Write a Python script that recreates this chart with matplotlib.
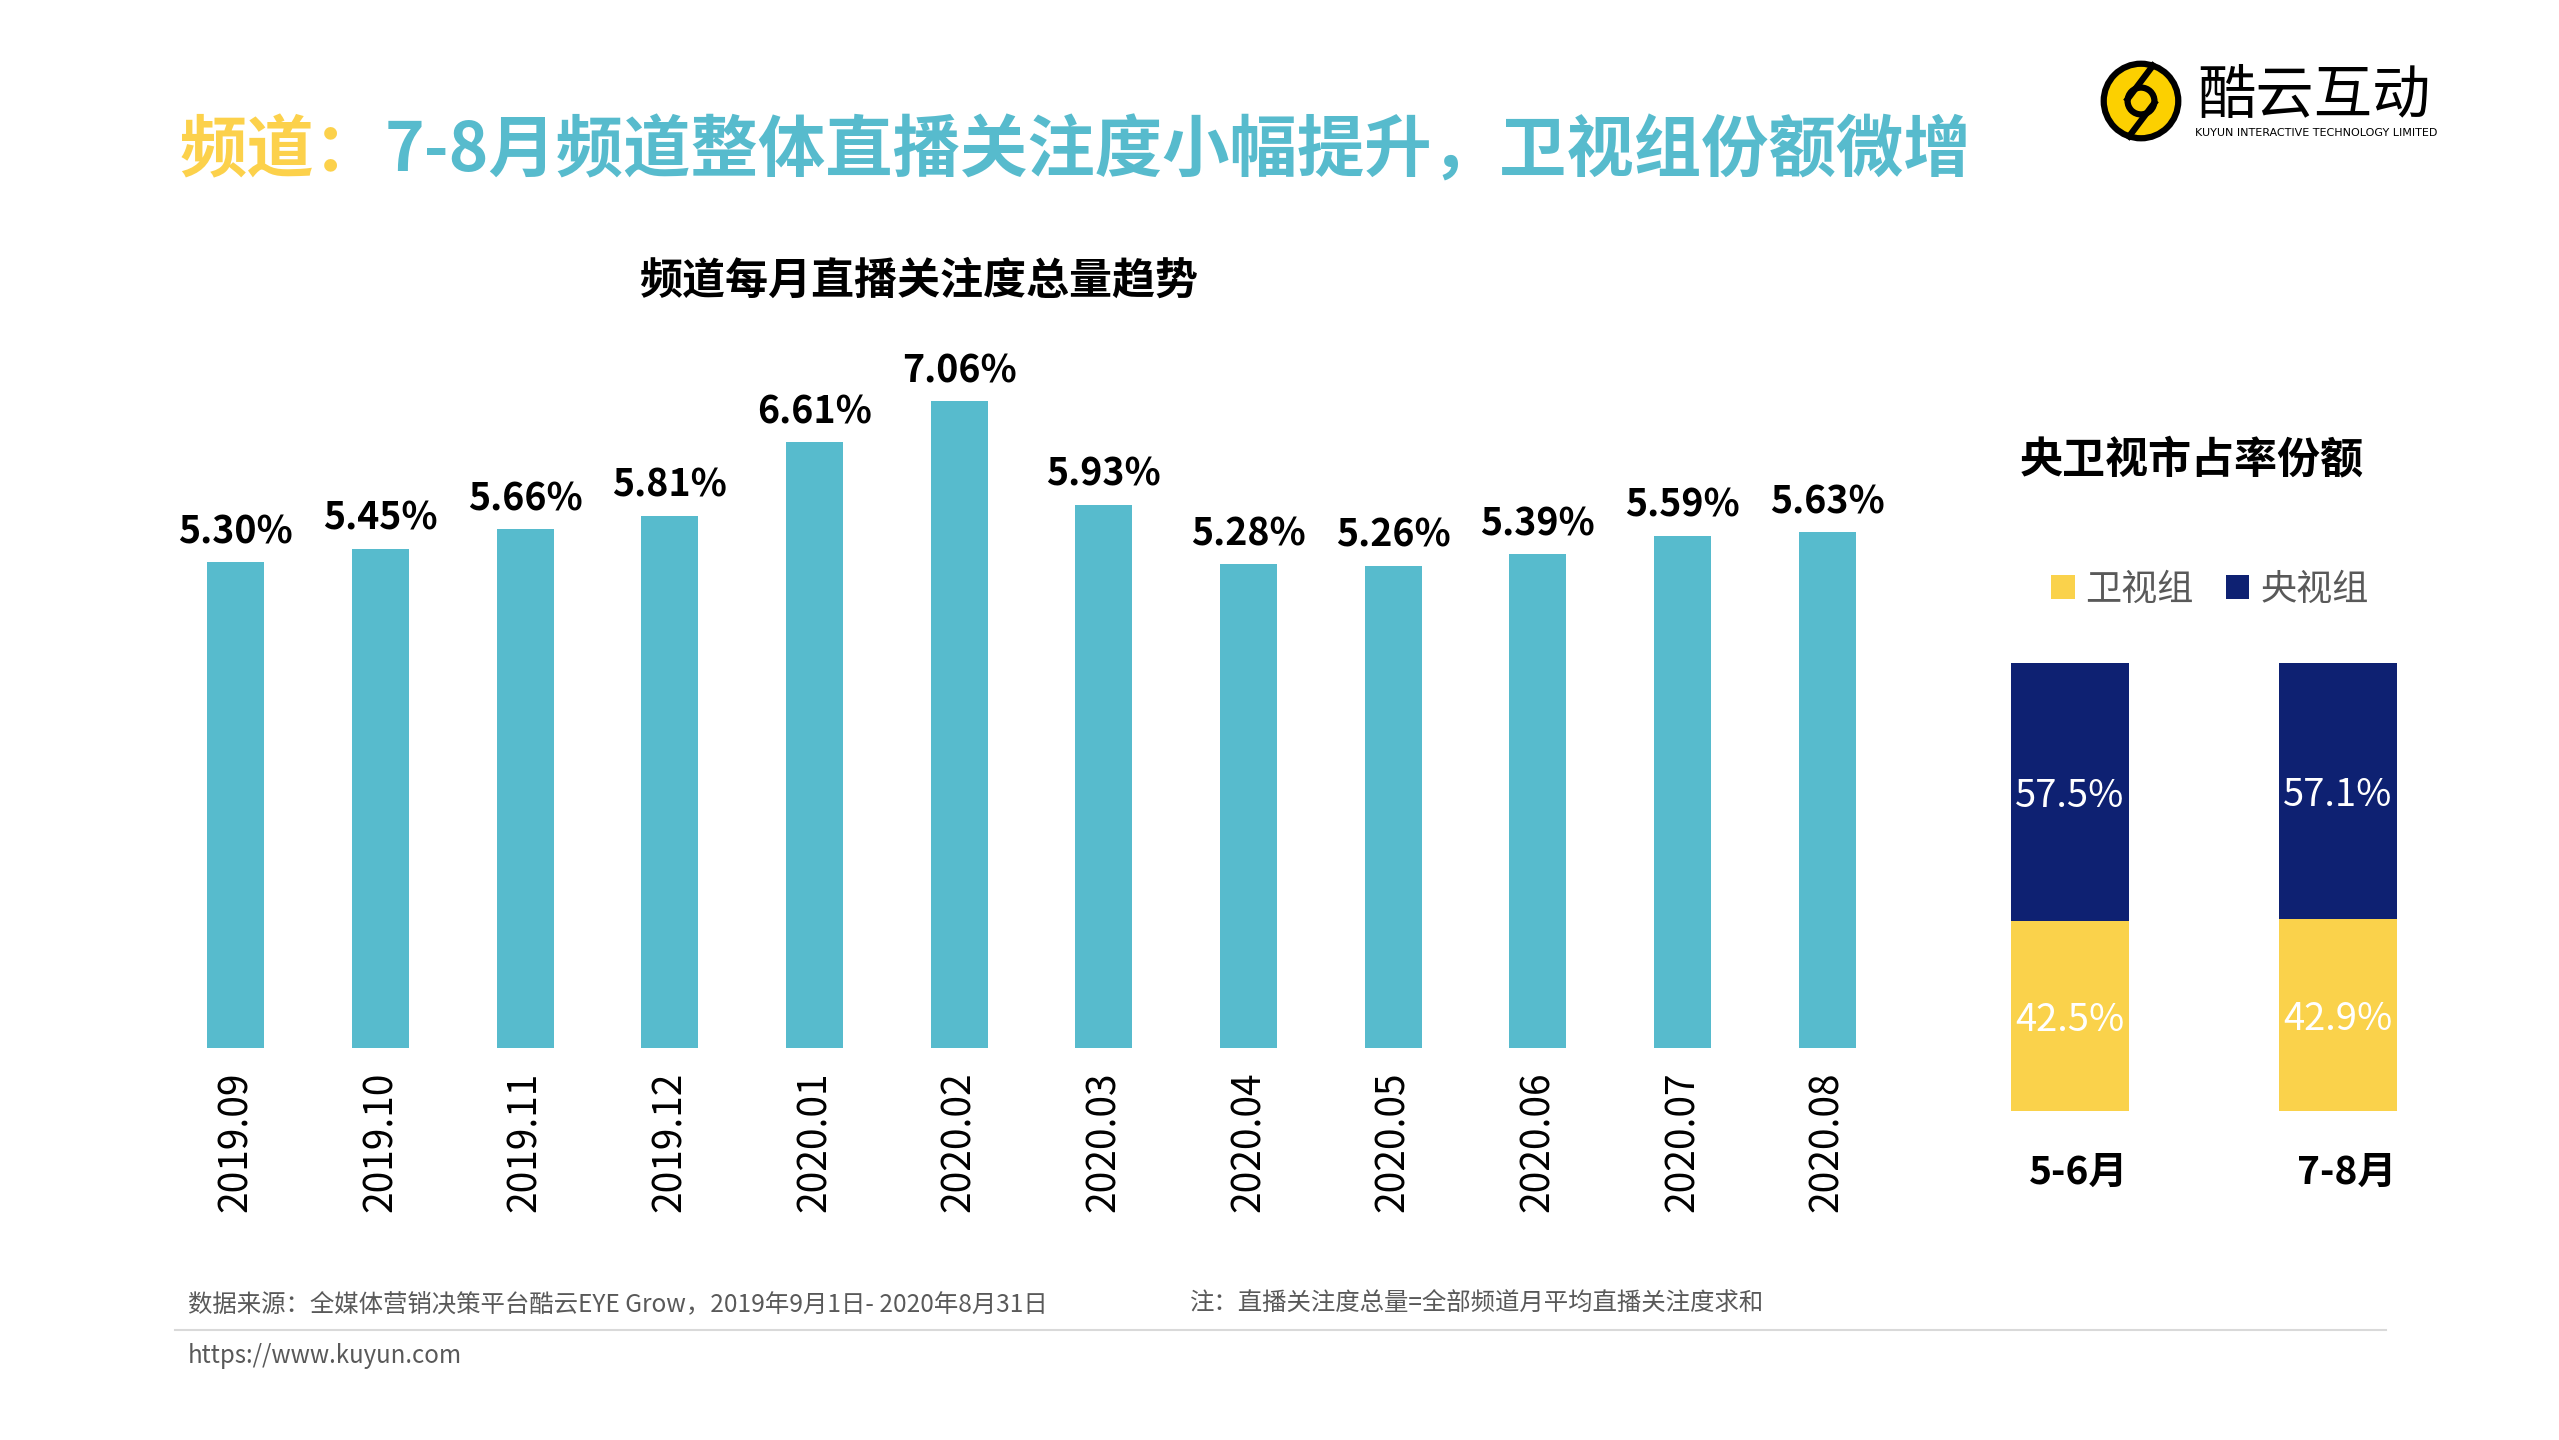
import matplotlib
matplotlib.use("Agg")
import matplotlib.pyplot as plt
import matplotlib.transforms as mtransforms
from matplotlib.patches import Circle
from matplotlib.lines import Line2D

plt.rcParams['font.family'] = ['Noto Sans CJK SC', 'DejaVu Sans']

months = ['2019.09', '2019.10', '2019.11', '2019.12', '2020.01', '2020.02',
          '2020.03', '2020.04', '2020.05', '2020.06', '2020.07', '2020.08']
attention = [5.30, 5.45, 5.66, 5.81, 6.61, 7.06, 5.93, 5.28, 5.26, 5.39, 5.59, 5.63]

periods = ['5-6月', '7-8月']
satellite = [42.5, 42.9]   # 卫视组
cctv = [57.5, 57.1]        # 央视组

teal = '#57BBCD'
yellow = '#FAD24B'
title_yellow = '#FCD14B'
navy = '#0E2172'
grey = '#595959'

W, H = 2559, 1440
fig = plt.figure(figsize=(W / 100, H / 100), dpi=100)

def fx(px):
    return px / W

def fy(py):
    return 1 - py / H

# title
fig.text(fx(180), fy(152), '频道：', fontsize=48.5, fontweight='bold',
         color=title_yellow, va='center', ha='left')
fig.text(fx(385), fy(152), '7-8月频道整体直播关注度小幅提升，卫视组份额微增',
         fontsize=48.5, fontweight='bold', color=teal, va='center', ha='left')

# logo
lax = fig.add_axes([fx(2100), fy(142), fx(82), 82 / H])
lax.set_xlim(-1.1, 1.1)
lax.set_ylim(-1.1, 1.1)
lax.set_aspect('equal')
lax.axis('off')
lax.add_patch(Circle((0, 0), 1.0, facecolor='#FCD000', edgecolor='black', lw=4.5))
lax.add_patch(Circle((0, 0), 0.36, facecolor='none', edgecolor='black', lw=4.5))
lax.plot([0.32, -0.36], [0.95, 0.05], color='black', lw=4.5)
lax.plot([0.36, -0.32], [-0.05, -0.95], color='black', lw=4.5)
fig.text(fx(2314), fy(96), '酷云互动', fontsize=42, fontweight='medium',
         color='black', ha='center', va='center')
fig.text(fx(2316), fy(133), 'KUYUN INTERACTIVE TECHNOLOGY LIMITED', fontsize=8,
         color='black', ha='center', va='center', family=['DejaVu Sans'])

# main bar chart
fig.text(fx(919), fy(281), '频道每月直播关注度总量趋势', fontsize=31,
         fontweight='bold', ha='center', va='center')
ax = fig.add_axes([fx(149), fy(1048), fx(1765), 733 / H])
x = range(len(months))
bars = ax.bar(x, attention, width=0.395, color=teal)
ax.bar_label(bars, labels=[f'{v:.2f}%' for v in attention], padding=8,
             fontsize=27, fontweight='bold')
ax.set_xlim(-0.6, len(months) - 0.4)
ax.set_ylim(0, 8)
ax.set_xticks(list(x))
ax.set_xticklabels(months, rotation=90, fontsize=28, color='black')
ax.tick_params(axis='x', length=0, pad=17)
ax.set_yticks([])
for s in ax.spines.values():
    s.set_visible(False)

# stacked share chart
fig.text(fx(2192), fy(459), '央卫视市占率份额', fontsize=31,
         fontweight='bold', ha='center', va='center')
ax2 = fig.add_axes([fx(1936), fy(1111), fx(536), 448 / H])
b1 = ax2.bar([0, 1], satellite, width=0.444, color=yellow, label='卫视组')
b2 = ax2.bar([0, 1], cctv, width=0.444, bottom=satellite, color=navy, label='央视组')
t1 = ax2.bar_label(b1, labels=[f'{v:.1f}%' for v in satellite], label_type='center',
                   fontsize=27.5, color='white')
t2 = ax2.bar_label(b2, labels=[f'{v:.1f}%' for v in cctv], label_type='center',
                   fontsize=27.5, color='white')
for t in t1 + t2:
    t.xyann = (0, -3.6)
ax2.set_xlim(-0.5, 1.5)
ax2.set_ylim(0, 100)
ax2.set_xticks([0, 1])
ax2.set_xticklabels(periods, fontsize=28, fontweight='bold')
ax2.tick_params(axis='x', length=0, pad=30)
shift = mtransforms.ScaledTranslation(0.09, 0, fig.dpi_scale_trans)
for lbl in ax2.get_xticklabels():
    lbl.set_transform(lbl.get_transform() + shift)
ax2.set_yticks([])
for s in ax2.spines.values():
    s.set_visible(False)
fig.legend(handles=[b1, b2], loc='center', bbox_to_anchor=(fx(2210), fy(590)),
           ncol=2, frameon=False, fontsize=26, labelcolor=grey,
           handlelength=0.64, handleheight=0.64, handletextpad=0.3,
           columnspacing=0.9)

# footer
fig.text(fx(188), fy(1304), '数据来源：全媒体营销决策平台酷云EYE Grow，2019年9月1日- 2020年8月31日',
         fontsize=17.6, color=grey, ha='left', va='center')
fig.text(fx(1190), fy(1304), '注：直播关注度总量=全部频道月平均直播关注度求和',
         fontsize=17.6, color=grey, ha='left', va='center')
fig.add_artist(Line2D([fx(175), fx(2386)], [fy(1330), fy(1330)],
                      color='#D9D9D9', lw=1.5))
fig.text(fx(188), fy(1356), 'https://www.kuyun.com', fontsize=17.3,
         color=grey, ha='left', va='center')

fig.savefig('out.png', dpi=100)
